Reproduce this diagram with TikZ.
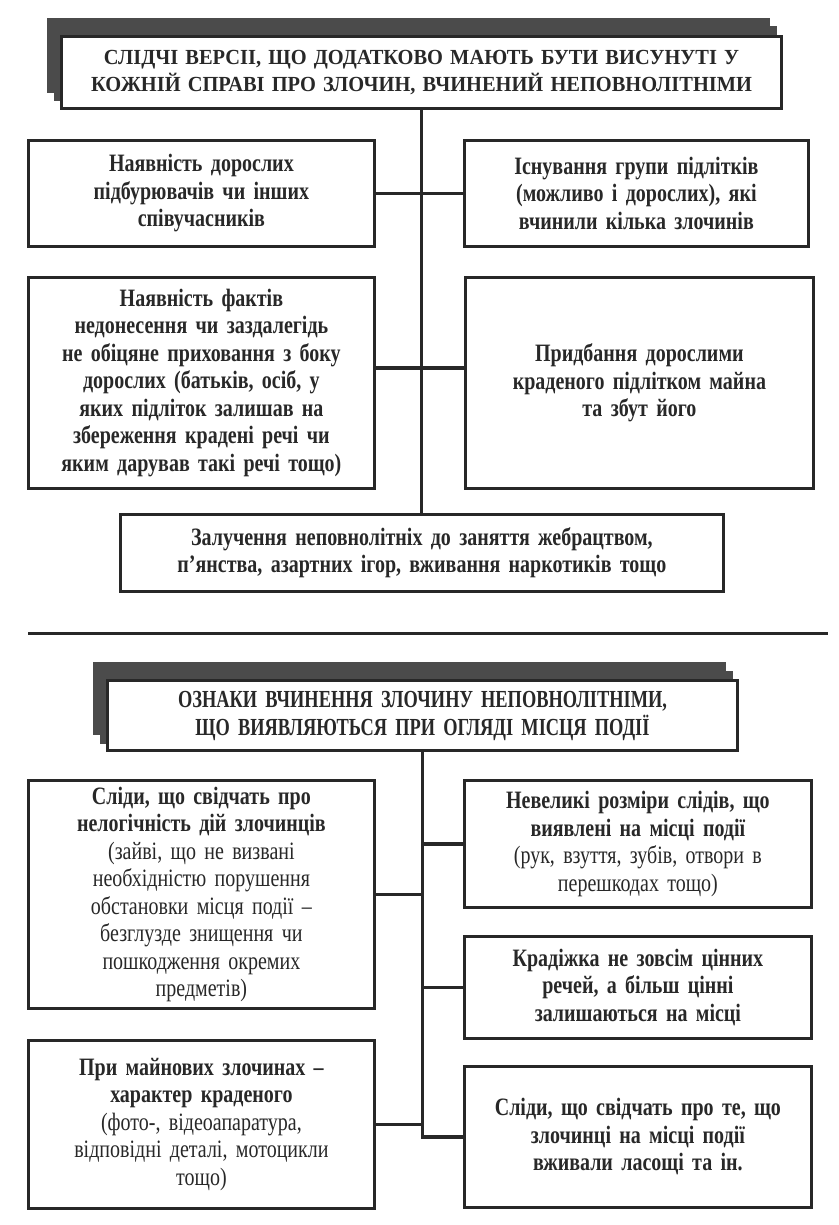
\documentclass[tikz,border=0pt]{standalone}
\usepackage{fontspec}
\setmainfont{Liberation Serif}
\newfontfamily\headfont{Liberation Serif}[FakeStretch=0.95]
\newfontfamily\narrowfont{Liberation Serif}[FakeStretch=0.8]
\newfontfamily\tallfont{Liberation Serif}[FakeStretch=0.75]
\usetikzlibrary{shadows}
\definecolor{LineColour}{RGB}{40,40,40}
\definecolor{ShadeColour}{RGB}{75,75,75}

\begin{document}
\begin{tikzpicture}[
  x=1pt, y=-1pt,
  font=\narrowfont\fontsize{25}{27.5}\selectfont,
  itembox/.style={draw=LineColour, line width=2.8pt, fill=white, anchor=north west, inner sep=0pt, align=center, text=LineColour},
  boldbox/.style={itembox, font=\narrowfont\bfseries\fontsize{25}{27.5}\selectfont},
  titlebox/.style={itembox, line width=3pt, double copy shadow={shadow xshift=-6.5pt, shadow yshift=8.5pt, fill=ShadeColour, draw=ShadeColour}},
  linkline/.style={draw=LineColour, line width=3.2pt}
]
\useasboundingbox (0,0) rectangle (838,1225);

% first scheme
\node[titlebox, minimum width=720pt, minimum height=72pt, text width=710pt, font=\headfont\bfseries\fontsize{21.5}{27}\selectfont] (versions) at (60,35) {СЛІДЧІ ВЕРСІІ, ЩО ДОДАТКОВО МАЮТЬ БУТИ ВИСУНУТІ У\\КОЖНІЙ СПРАВІ ПРО ЗЛОЧИН, ВЧИНЕНИЙ НЕПОВНОЛІТНІМИ};
\node[boldbox, minimum width=346pt, minimum height=106pt, text width=330pt] (adults) at (27,139) {Наявність дорослих\\підбурювачів чи інших\\співучасників};
\node[boldbox, minimum width=344pt, minimum height=106pt, text width=330pt] (group) at (463,139) {Існування групи підлітків\\(можливо і дорослих), які\\вчинили кілька злочинів};
\node[boldbox, minimum width=346pt, minimum height=211pt, text width=340pt] (facts) at (27,276) {Наявність фактів\\недонесення чи заздалегідь\\не обіцяне приховання з боку\\дорослих (батьків, осіб, у\\яких підліток залишав на\\збереження крадені речі чи\\яким дарував такі речі тощо)};
\node[boldbox, minimum width=348pt, minimum height=211pt, text width=330pt] (buying) at (464,276) {Придбання дорослими\\краденого підлітком майна\\та збут його};
\node[boldbox, minimum width=603pt, minimum height=77pt, text width=590pt] (attract) at (119,513) {Залучення неповнолітніх до заняття жебрацтвом,\\п’янства, азартних ігор, вживання наркотиків тощо};

\draw[linkline] (versions.south) -- (versions.south |- attract.north);
\draw[linkline] (adults.east) -- (group.west);
\draw[linkline] ([yshift=15pt]facts.east) -- ([yshift=15pt]buying.west);

\draw[LineColour, line width=3pt] (28,633) -- (828,633);

% second scheme
\node[titlebox, minimum width=630pt, minimum height=70pt, text width=620pt, font=\tallfont\bfseries\fontsize{24.5}{28}\selectfont] (signs) at (106,679) {ОЗНАКИ ВЧИНЕННЯ ЗЛОЧИНУ НЕПОВНОЛІТНІМИ,\\ЩО ВИЯВЛЯЮТЬСЯ ПРИ ОГЛЯДІ МІСЦЯ ПОДІЇ};
\node[itembox, minimum width=346pt, minimum height=228pt, text width=340pt] (traces) at (27,779) {\textbf{Сліди, що свідчать про}\\\textbf{нелогічність дій злочинців}\\(зайві, що не визвані\\необхідністю порушення\\обстановки місця події –\\безглузде знищення чи\\пошкодження окремих\\предметів)};
\node[itembox, minimum width=347pt, minimum height=127pt, text width=340pt] (sizes) at (463,779) {\textbf{Невеликі розміри слідів, що}\\\textbf{виявлені на місці події}\\(рук, взуття, зубів, отвори в\\перешкодах тощо)};
\node[boldbox, minimum width=347pt, minimum height=102pt, text width=340pt] (theft) at (463,935) {Крадіжка не зовсім цінних\\речей, а більш цінні\\залишаються на місці};
\node[itembox, minimum width=346pt, minimum height=168pt, text width=340pt] (property) at (27,1039) {\textbf{При майнових злочинах –}\\\textbf{характер краденого}\\(фото-, відеоапаратура,\\відповідні деталі, мотоцикли\\тощо)};
\node[boldbox, minimum width=347pt, minimum height=141pt, text width=340pt] (sweets) at (463,1065) {Сліди, що свідчать про те, що\\злочинці на місці події\\вживали ласощі та ін.};

\draw[linkline] (signs.south) |- (sweets.west);
\draw[linkline] (traces.east) -- (traces.east -| signs.south);
\draw[linkline] (sizes.west) -- (sizes.west -| signs.south);
\draw[linkline] (theft.west) -- (theft.west -| signs.south);
\draw[linkline] (property.east) -- (property.east -| signs.south);
\end{tikzpicture}
\end{document}
